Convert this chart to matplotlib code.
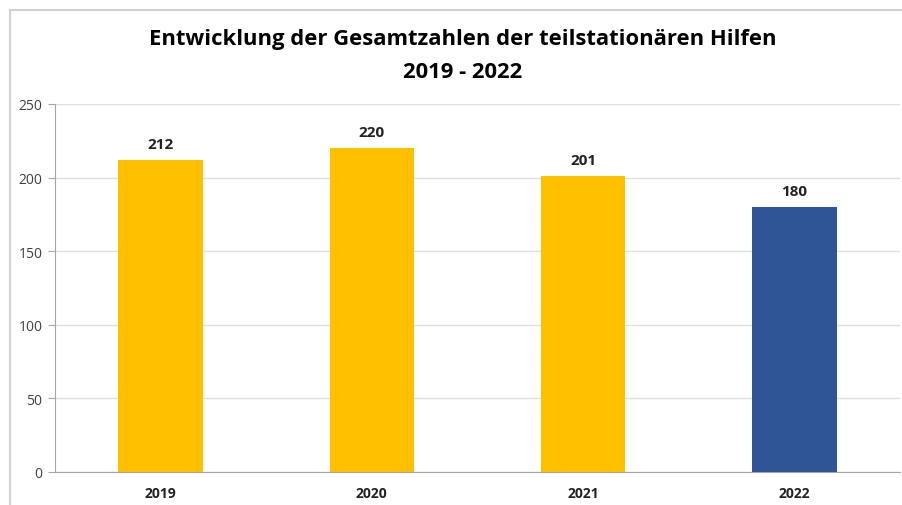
import matplotlib
matplotlib.use("Agg")
import matplotlib.pyplot as plt
from matplotlib.patches import Rectangle

# data
years = ["2019", "2020", "2021", "2022"]
totals = [212, 220, 201, 180]
bar_colors = ["#FFC000", "#FFC000", "#FFC000", "#2F5597"]
y_ticks = [0, 50, 100, 150, 200, 250]

plt.rcParams["font.family"] = ["Open Sans", "DejaVu Sans"]

fig = plt.figure(figsize=(9.03, 5.06), dpi=100)
ax = fig.add_axes([55 / 903, 1 - 473 / 506, 845 / 903, (473 - 105) / 506])

# outer chart frame (cut off at right and bottom like the screenshot)
fig.patches.append(Rectangle((10 / 903, -0.1), 1.0, 1 - 11 / 506 + 0.1,
                             transform=fig.transFigure, fill=False,
                             edgecolor="#D0D0D0", linewidth=1.5))

x = range(len(years))
bars = ax.bar(x, totals, width=0.4, color=bar_colors, zorder=3)
for b, v in zip(bars, totals):
    ax.text(b.get_x() + b.get_width() / 2, v + 6, str(v), ha="center",
            va="bottom", fontsize=11, fontweight="bold", color="#222222")

ax.set_xlim(-0.5, len(years) - 0.5)
ax.set_ylim(0, 250)
ax.set_yticks(y_ticks)
ax.set_xticks(list(x))
ax.set_xticklabels(years, fontweight="bold", fontsize=10, color="#222222")
ax.tick_params(axis="y", labelsize=10, colors="#404040", length=5,
               color="#A6A6A6", pad=4)
ax.tick_params(axis="x", length=0, pad=10)
ax.grid(axis="y", color="#E0E0E0", linewidth=1, zorder=0)
for s in ["top", "right"]:
    ax.spines[s].set_visible(False)
ax.spines["left"].set_color("#A6A6A6")
ax.spines["bottom"].set_color("#A6A6A6")

fig.text(463 / 903, 1 - 40 / 506, "Entwicklung der Gesamtzahlen der teilstationären Hilfen",
         ha="center", va="center", fontsize=15.8, fontweight="bold")
fig.text(463 / 903, 1 - 72 / 506, "2019 - 2022",
         ha="center", va="center", fontsize=15.8, fontweight="bold")

fig.savefig("out.png", dpi=100)
